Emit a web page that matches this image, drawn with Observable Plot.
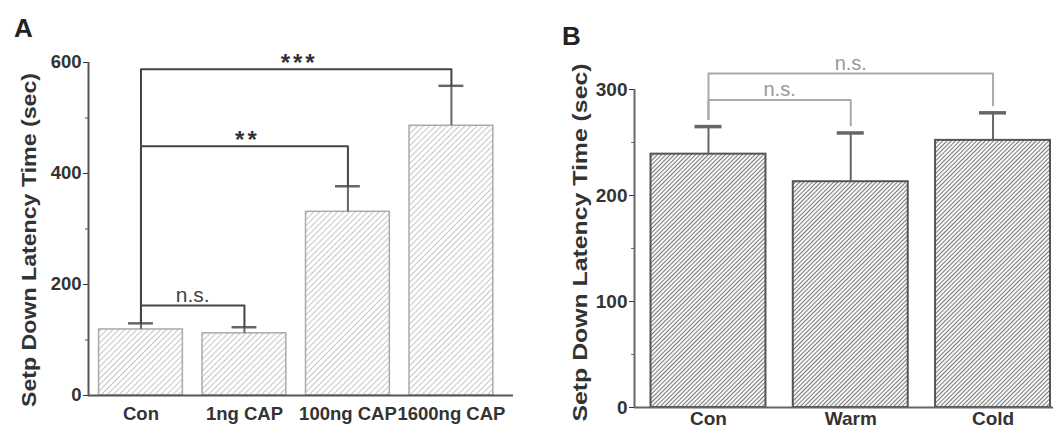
<!DOCTYPE html>
<html><head><meta charset="utf-8">
<script src="https://cdn.jsdelivr.net/npm/d3@7"></script>
<script src="https://cdn.jsdelivr.net/npm/@observablehq/plot@0.6"></script>
<style>
html,body{margin:0;padding:0;background:#fff;overflow:hidden}
#wrap{position:relative;width:1053px;height:428px;overflow:hidden}
#a{position:absolute;left:0;top:0}
#b{position:absolute;left:530px;top:0}
</style></head><body>
<div id="wrap"><div id="a"></div><div id="b"></div></div>
<script>
// ---- Data: panel A ----
const catsA = ["Con", "1ng CAP", "100ng CAP", "1600ng CAP"];
const meanA = [119, 112, 331, 486];
const semA = [11, 11, 46, 72];
const bracketsA = [
  {from: 0, to: 1, y: 162, label: "n.s."},
  {from: 0, to: 2, y: 449, label: "**"},
  {from: 0, to: 3, y: 588, label: "***"}
];
const ticksA = [0, 200, 400, 600];
const minorA = [100, 300, 500];

// ---- Data: panel B ----
const catsB = ["Con", "Warm", "Cold"];
const meanB = [239, 213, 252];
const semB = [26, 46, 26];
const bracketsB = [
  {from: 0, to: 1, y: 290, label: "n.s."},
  {from: 0, to: 2, y: 315, label: "n.s."}
];
const ticksB = [0, 100, 200, 300];
const minorB = [50, 150, 250];

const yTitle = "Setp Down Latency Time (sec)";
const FONT = "'Liberation Sans', Arial, sans-serif";

function addHatch(svg, id, spacing, color, width) {
  const defs = d3.select(svg).insert("defs", ":first-child");
  const p = defs.append("pattern").attr("id", id)
    .attr("patternUnits", "userSpaceOnUse")
    .attr("width", spacing).attr("height", spacing)
    .attr("patternTransform", "rotate(45)");
  p.append("rect").attr("width", spacing).attr("height", spacing).attr("fill", "#fff");
  p.append("line").attr("x1", spacing / 2).attr("x2", spacing / 2)
    .attr("y1", 0).attr("y2", spacing)
    .attr("stroke", color).attr("stroke-width", width);
}

function panel(cfg) {
  const rows = cfg.cats.map((c, i) => ({i, cat: c, mean: cfg.mean[i], top: cfg.mean[i] + cfg.sem[i]}));
  const pts = [];
  cfg.brackets.forEach((b, k) => {
    pts.push({k, x: b.from, y: rows[b.from].top + cfg.gap});
    pts.push({k, x: b.from, y: b.y});
    pts.push({k, x: b.to, y: b.y});
    pts.push({k, x: b.to, y: rows[b.to].top + cfg.gap});
  });
  const labels = cfg.brackets.map(b => ({x: (b.from + b.to) / 2, y: b.y, label: b.label}));
  const [x0, x1] = cfg.xDomain;
  const ymax = cfg.ticks[cfg.ticks.length - 1];
  const svg = Plot.plot({
    width: cfg.width, height: 428,
    marginLeft: cfg.ml, marginRight: cfg.mr, marginTop: cfg.mt, marginBottom: cfg.mb,
    style: {fontFamily: FONT, fontSize: cfg.fontSize, fontWeight: "bold", color: cfg.textColor, background: "transparent"},
    x: {domain: cfg.xDomain, ticks: rows.map(r => r.i), tickFormat: i => cfg.cats[i], tickSize: 0, tickPadding: cfg.xPad, label: null},
    y: {domain: [0, ymax], ticks: cfg.ticks, tickSize: 5, tickPadding: 2, label: null},
    marks: [
      Plot.ruleY(cfg.minor, {x1: x0 - cfg.minorLen, x2: x0, stroke: cfg.axisColor, strokeWidth: 1}),
      Plot.rect(rows, {x1: d => d.i - cfg.hw, x2: d => d.i + cfg.hw, y1: 0, y2: "mean",
        fill: `url(#${cfg.hatchId})`, stroke: cfg.barStroke, strokeWidth: cfg.barStrokeWidth}),
      Plot.ruleX(rows, {x: "i", y1: "mean", y2: "top", stroke: cfg.errColor, strokeWidth: 2}),
      Plot.ruleY(rows, {y: "top", x1: d => d.i - cfg.cap, x2: d => d.i + cfg.cap, stroke: cfg.errColor, strokeWidth: cfg.capWidth}),
      Plot.line(pts, {x: "x", y: "y", z: "k", stroke: cfg.bracketColor, strokeWidth: 2}),
      Plot.text(labels.filter(d => d.label === "n.s."), {x: "x", y: "y", text: "label", lineAnchor: "bottom", dy: -4,
        fontSize: cfg.nsSize, fontWeight: "normal", fill: cfg.nsColor}),
      Plot.text(labels.filter(d => d.label !== "n.s."), {x: "x", y: "y", text: "label", lineAnchor: "bottom", dy: 2, dx: 3,
        fontSize: 24, fontWeight: "bold", fill: "#333"}),
      Plot.ruleX([x0], {y1: 0, y2: ymax, stroke: cfg.axisColor, strokeWidth: 2}),
      Plot.ruleY([0], {x1: x0, x2: x1, stroke: cfg.axisColor, strokeWidth: 2}),
      Plot.text([yTitle], {text: d => d, frameAnchor: "left", rotate: -90, dx: cfg.titleDx, dy: cfg.titleDy,
        textAnchor: "middle", lineAnchor: "middle", fontSize: 20, fontWeight: "bold", fill: "#333"}),
      Plot.text([cfg.letter], {text: d => d, frameAnchor: "top-left", dx: cfg.letterDx, dy: cfg.letterDy,
        textAnchor: "middle", lineAnchor: "middle", fontSize: 26, fontWeight: "bold", fill: "#222"})
    ]
  });
  addHatch(svg, cfg.hatchId, cfg.hatchSpacing, cfg.hatchColor, cfg.hatchWidth);
  const sel = d3.select(svg).selectAll("text");
  sel.filter(function() { return this.textContent === yTitle; })
    .attr("textLength", cfg.titleLen).attr("lengthAdjust", "spacingAndGlyphs");
  sel.filter(function() { return /^\*+$/.test(this.textContent); })
    .style("letter-spacing", "3px");
  return svg;
}

document.getElementById("a").appendChild(panel({
  cats: catsA, mean: meanA, sem: semA, brackets: bracketsA, ticks: ticksA, minor: minorA,
  width: 530, ml: 88, mr: 17, mt: 62, mb: 33, xDomain: [-0.507, 3.6], xPad: 11, fontSize: "18.5px",
  hw: 0.405, cap: 0.12, capWidth: 2.5, gap: 0, minorLen: 0.03,
  hatchId: "hatchA", hatchSpacing: 4.2, hatchColor: "#c4c4c4", hatchWidth: 1,
  barStroke: "#aaa", barStrokeWidth: 1.5, errColor: "#666", bracketColor: "#444",
  axisColor: "#555", textColor: "#333", nsSize: 21, nsColor: "#444",
  titleDx: -59, titleDy: 11, titleLen: 334, letter: "A", letterDx: -65, letterDy: -34
}));

document.getElementById("b").appendChild(panel({
  cats: catsB, mean: meanB, sem: semB, brackets: bracketsB, ticks: ticksB, minor: minorB,
  width: 523, ml: 104, mr: 0, mt: 89, mb: 21, xDomain: [-0.52, 2.425], xPad: 4, fontSize: "19px",
  hw: 0.404, cap: 0.095, capWidth: 3.5, gap: 7, minorLen: 0.02,
  hatchId: "hatchB", hatchSpacing: 3, hatchColor: "#7a7a7a", hatchWidth: 1.1,
  barStroke: "#555", barStrokeWidth: 2, errColor: "#666", bracketColor: "#aaa",
  axisColor: "#666", textColor: "#333", nsSize: 20, nsColor: "#999",
  titleDx: -54, titleDy: -6, titleLen: 358, letter: "B", letterDx: -63, letterDy: -53
}));
</script>
</body></html>
